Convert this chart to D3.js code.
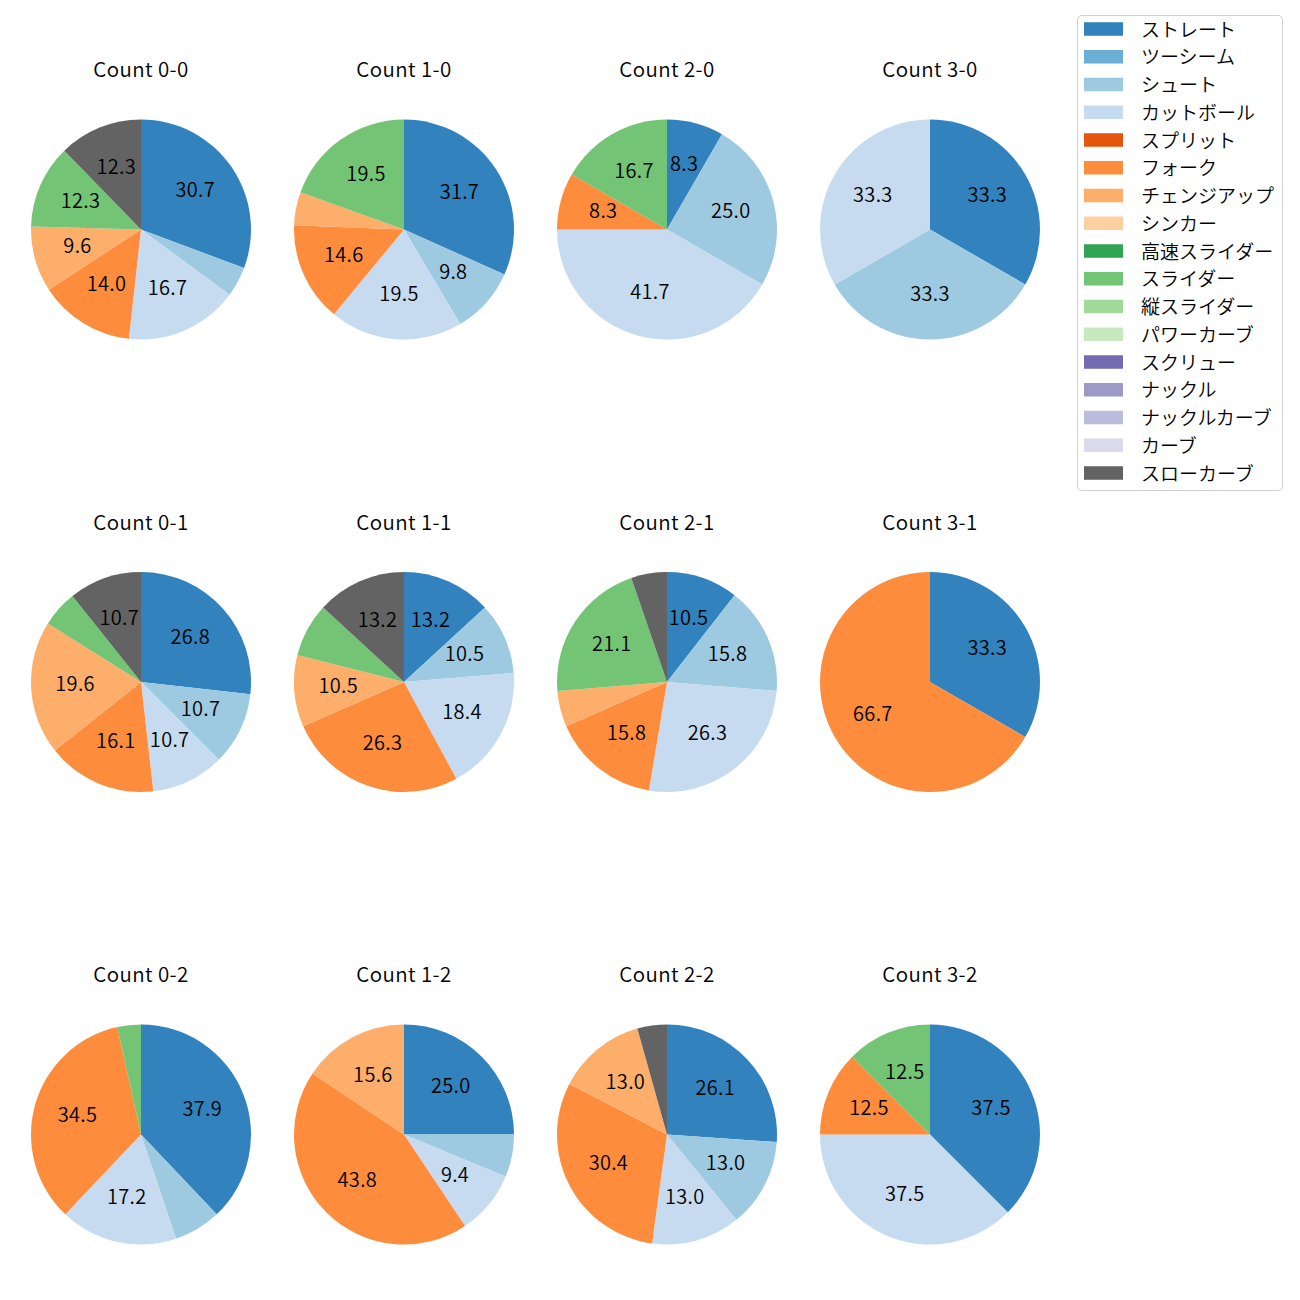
<!DOCTYPE html>
<html><head><meta charset="utf-8">
<script src="https://cdn.jsdelivr.net/npm/d3@7"></script>
<style>body{margin:0;background:#fff;} text{font-family:"Noto Sans CJK JP","Noto Sans",sans-serif;font-weight:350;}</style>
</head><body>
<svg id="c" width="1300" height="1300"></svg>
<script>
const pitchTypes = ["ストレート","ツーシーム","シュート","カットボール","スプリット","フォーク","チェンジアップ","シンカー","高速スライダー","スライダー","縦スライダー","パワーカーブ","スクリュー","ナックル","ナックルカーブ","カーブ","スローカーブ"];
const pitchColors = ["#3182bd","#6baed6","#9ecae1","#c6dbef","#e6550d","#fd8d3c","#fdae6b","#fdd0a2","#31a354","#74c476","#a1d99b","#c7e9c0","#756bb1","#9e9ac8","#bcbddc","#dadaeb","#636363"];
const countLabels = ["Count 0-0","Count 1-0","Count 2-0","Count 3-0","Count 0-1","Count 1-1","Count 2-1","Count 3-1","Count 0-2","Count 1-2","Count 2-2","Count 3-2"];
// pitch counts per panel, in pitchTypes order
const c00 = [35,0,5,19,0,16,11,0,0,14,0,0,0,0,0,0,14];
const c10 = [13,0,4,8,0,6,2,0,0,8,0,0,0,0,0,0,0];
const c20 = [1,0,3,5,0,1,0,0,0,2,0,0,0,0,0,0,0];
const c30 = [1,0,1,1,0,0,0,0,0,0,0,0,0,0,0,0,0];
const c01 = [15,0,6,6,0,9,11,0,0,3,0,0,0,0,0,0,6];
const c11 = [5,0,4,7,0,10,4,0,0,3,0,0,0,0,0,0,5];
const c21 = [2,0,3,5,0,3,1,0,0,4,0,0,0,0,0,0,1];
const c31 = [1,0,0,0,0,2,0,0,0,0,0,0,0,0,0,0,0];
const c02 = [11,0,2,5,0,10,0,0,0,1,0,0,0,0,0,0,0];
const c12 = [8,0,2,3,0,14,5,0,0,0,0,0,0,0,0,0,0];
const c22 = [6,0,3,3,0,7,3,0,0,0,0,0,0,0,0,0,1];
const c32 = [3,0,0,3,0,1,0,0,0,1,0,0,0,0,0,0,0];
const panels = [c00,c10,c20,c30,c01,c11,c21,c31,c02,c12,c22,c32];

const svg = d3.select("#c");
const colX = d3.scalePoint().domain([0,1,2,3]).range([141,930]);
const rowY = d3.scalePoint().domain([0,1,2]).range([229.5,1134.5]);
const R = 110;
const color = d3.scaleOrdinal().domain(pitchTypes).range(pitchColors);
const pie = d3.pie().sort(null).value(d => d.v).startAngle(0).endAngle(2*Math.PI);
const arc = d3.arc().innerRadius(0).outerRadius(R);
const labelArc = d3.arc().innerRadius(R*0.6).outerRadius(R*0.6);

panels.forEach((vals, i) => {
  const cx = colX(i % 4), cy = rowY(Math.floor(i / 4));
  const data = vals.map((v, k) => ({name: pitchTypes[k], v}));
  const total = d3.sum(vals);
  const g = svg.append("g").attr("transform", `translate(${cx},${cy})`);
  const arcs = pie(data).filter(d => d.data.v > 0);
  g.selectAll("path").data(arcs).join("path")
    .attr("d", arc).attr("fill", d => color(d.data.name));
  g.selectAll("text.lbl").data(arcs.filter(d => d.data.v / total * 100 >= 8)).join("text")
    .attr("class","lbl")
    .attr("transform", d => { const c = labelArc.centroid(d); return `translate(${c[0]},${c[1]-3})`; })
    .attr("text-anchor","middle").attr("dominant-baseline","central")
    .attr("font-size", 20).attr("letter-spacing", 0.3).attr("fill","#000")
    .text(d => (d.data.v / total * 100).toFixed(1));
  svg.append("text").attr("x", cx).attr("y", cy - 161.5)
    .attr("text-anchor","middle").attr("dominant-baseline","central")
    .attr("font-size", 20.5).attr("letter-spacing", 0.4).attr("fill","#000").text(countLabels[i]);
});

// legend
const lg = svg.append("g");
lg.append("rect").attr("x",1077.5).attr("y",15.5).attr("width",205).attr("height",475)
  .attr("rx",4).attr("fill","#fff").attr("stroke","#d0d0d0");
const ly = d3.scalePoint().domain(d3.range(pitchTypes.length)).range([29,473]);
pitchTypes.forEach((p, k) => {
  lg.append("rect").attr("x",1084).attr("y",ly(k)-6.75).attr("width",39).attr("height",13.5).attr("fill",color(p));
  lg.append("text").attr("x",1141).attr("y",ly(k)-1).attr("dominant-baseline","central")
    .attr("font-size",19).attr("fill","#000").text(p);
});
</script>
</body></html>
